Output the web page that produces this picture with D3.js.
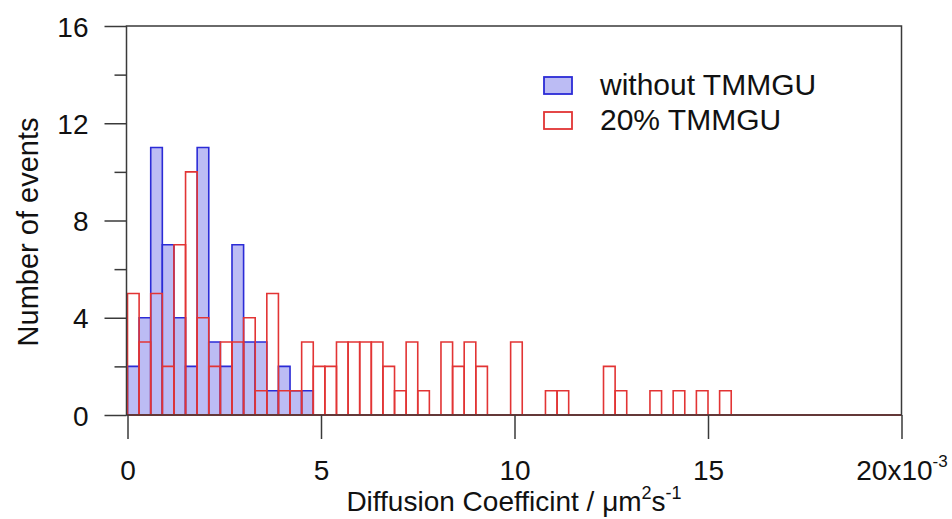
<!DOCTYPE html>
<html>
<head>
<meta charset="utf-8">
<script src="https://cdn.jsdelivr.net/npm/d3@7"></script>
<style>
  body { margin: 0; background: #fff; }
  text { font-family: "Liberation Sans", Arial, sans-serif; fill: #111; }
</style>
</head>
<body>
<div id="chart"></div>
<script>
var width = 952;
var height = 519;

// histogram data, bins of 0.3 (x10^-3 um2/s) starting at 0
var binWidth = 0.3;
var withoutCounts = [2,4,11,7,4,2,11,3,2,7,3,3,1,2,1,1];
var tmmguCounts = [5,3,5,2,7,10,4,2,3,3,4,1,5,1,1,3,2,2,3,3,3,3,2,1,3,1,0,3,2,3,2,0,0,3,0,0,
                   1,1,0,0,0,2,1,0,0,1,0,1,0,1,0,1];
var xTicks = [0, 5, 10, 15, 20];
var yTicks = [0, 2, 4, 6, 8, 10, 12, 14, 16];
var yLabels = [0, 4, 8, 12, 16];
var seriesNames = ["without TMMGU", "20% TMMGU"];

var blueStroke = "#2b2bd6";
var blueFill = "#bcbcf4";
var redStroke = "#e23434";
var axisColor = "#3a3a3a";

var svg = d3.select("#chart")
    .append("svg")
    .attr("width", width)
    .attr("height", height);

var x = d3.scaleLinear().domain([0, 20]).range([127.5, 901.5]);
var y = d3.scaleLinear().domain([0, 16]).range([415, 26]);

function barPath(count, i) {
    var x0 = x(i * binWidth), x1 = x((i + 1) * binWidth);
    return "M" + x0 + "," + y(0) + "V" + y(count) + "H" + x1 + "V" + y(0);
}

// blue bars (filled)
svg.append("g")
    .selectAll("path")
    .data(withoutCounts)
    .enter()
    .append("path")
    .attr("d", function(d, i) { return barPath(d, i) + "Z"; })
    .attr("fill", blueFill)
    .attr("stroke", blueStroke)
    .attr("stroke-width", 1.6);

// red bars (outline only)
svg.append("g")
    .selectAll("path")
    .data(tmmguCounts)
    .enter()
    .append("path")
    .attr("d", barPath)
    .attr("fill", "none")
    .attr("stroke", redStroke)
    .attr("stroke-width", 1.6);

// red baseline of empty bins
svg.append("line")
    .attr("x1", x(0))
    .attr("x2", x(20))
    .attr("y1", y(0))
    .attr("y2", y(0))
    .attr("stroke", redStroke)
    .attr("stroke-width", 2);

// frame
svg.append("rect")
    .attr("x", x(0) - 1)
    .attr("y", y(16))
    .attr("width", x(20) - x(0) + 1)
    .attr("height", y(0) - y(16))
    .attr("fill", "none")
    .attr("stroke", axisColor)
    .attr("stroke-width", 1.5);

// y axis
var yAxis = svg.append("g")
    .attr("transform", "translate(" + (x(0) - 1) + ",0)")
    .call(d3.axisLeft(y).tickValues(yTicks).tickSize(22).tickFormat(""));
yAxis.select(".domain").remove();
yAxis.selectAll(".tick line")
    .attr("stroke", axisColor)
    .attr("stroke-width", 1.5)
    .attr("x2", function(d) { return yLabels.indexOf(d) >= 0 ? -22 : -12; });
yAxis.selectAll(".tick")
    .filter(function(d) { return yLabels.indexOf(d) >= 0; })
    .append("text")
    .attr("x", -38)
    .attr("dy", "0.36em")
    .attr("text-anchor", "end")
    .style("font-size", "28px")
    .style("fill", "#111")
    .text(function(d) { return d; });

// x axis
var xAxis = svg.append("g")
    .attr("transform", "translate(0," + y(0) + ")")
    .call(d3.axisBottom(x).tickValues(xTicks).tickSize(24).tickFormat(""));
xAxis.select(".domain").remove();
xAxis.selectAll(".tick line")
    .attr("stroke", axisColor)
    .attr("stroke-width", 1.5);
var xLab = xAxis.selectAll(".tick")
    .append("text")
    .attr("y", 65)
    .attr("text-anchor", "middle")
    .style("font-size", "28px")
    .style("fill", "#111");
xLab.append("tspan").text(function(d) { return d === 20 ? "20x10" : d; });
xLab.filter(function(d) { return d === 20; })
    .append("tspan")
    .attr("dy", -13)
    .style("font-size", "17px")
    .text("-3");

// axis titles
var xt = svg.append("text")
    .attr("x", 514)
    .attr("y", 511)
    .attr("text-anchor", "middle")
    .style("font-size", "28px");
xt.append("tspan").text("Diffusion Coefficint / \u03bcm");
xt.append("tspan").attr("dy", -12).style("font-size", "18px").text("2");
xt.append("tspan").attr("dy", 12).text("s");
xt.append("tspan").attr("dy", -12).style("font-size", "18px").text("-1");

svg.append("text")
    .attr("transform", "translate(38,232) rotate(-90)")
    .attr("text-anchor", "middle")
    .style("font-size", "29px")
    .text("Number of events");

// legend
var legend = svg.append("g");
var legFill = [blueFill, "none"];
var legStroke = [blueStroke, redStroke];
legend.selectAll("rect")
    .data(seriesNames)
    .enter()
    .append("rect")
    .attr("x", 544)
    .attr("y", function(d, i) { return 77 + i * 35; })
    .attr("width", 28)
    .attr("height", 17)
    .attr("fill", function(d, i) { return legFill[i]; })
    .attr("stroke", function(d, i) { return legStroke[i]; })
    .attr("stroke-width", 1.8);
legend.selectAll("text")
    .data(seriesNames)
    .enter()
    .append("text")
    .attr("x", 600)
    .attr("y", function(d, i) { return 95 + i * 35; })
    .style("font-size", "30px")
    .text(function(d) { return d; });
</script>
</body>
</html>
